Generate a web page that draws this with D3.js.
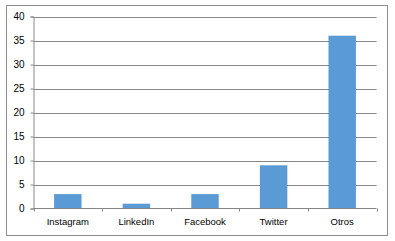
<!DOCTYPE html>
<html>
<head>
<meta charset="utf-8">
<script src="https://cdn.jsdelivr.net/npm/d3@7"></script>
<style>
  body { margin: 0; background: #fff; }
  text { font-family: "Liberation Sans", Arial, sans-serif; fill: #000; }
</style>
</head>
<body>
<div id="chart"></div>
<script>
var categorias = ["Instagram", "LinkedIn", "Facebook", "Twitter", "Otros"];
var valores = [3, 1, 3, 9, 36];
var ticksY = [0, 5, 10, 15, 20, 25, 30, 35, 40];

var width = 395,
    height = 241;

var svg = d3.select("#chart").append("svg")
    .attr("width", width)
    .attr("height", height);

// marco exterior
svg.append("rect")
    .attr("x", 6.5).attr("y", 5.5)
    .attr("width", 381).attr("height", 230)
    .attr("fill", "#fff")
    .attr("stroke", "#8c8c8c");

var x = d3.scaleBand()
    .domain(categorias)
    .range([33.5, 376.5])
    .paddingInner(0.6)
    .paddingOuter(0.3);

var y = d3.scaleLinear()
    .domain([0, 40])
    .range([208.5, 16.5]);

// lineas de la cuadricula
svg.append("g")
    .selectAll("line")
    .data(ticksY.slice(1))
  .enter().append("line")
    .attr("x1", 33.5).attr("x2", 376.5)
    .attr("y1", function(d) { return Math.round(y(d)) + 0.5; })
    .attr("y2", function(d) { return Math.round(y(d)) + 0.5; })
    .attr("stroke", "#868686");

// barras
svg.append("g")
    .selectAll("rect")
    .data(valores)
  .enter().append("rect")
    .attr("x", function(d, i) { return x(categorias[i]); })
    .attr("y", function(d) { return y(d); })
    .attr("width", x.bandwidth())
    .attr("height", function(d) { return y(0) - y(d); })
    .attr("fill", "#5b9bd5");

// eje Y
var ejeY = svg.append("g")
    .attr("transform", "translate(33.5,0)")
    .call(d3.axisLeft(y).tickValues(ticksY).tickSize(3).tickPadding(6));
ejeY.select(".domain").attr("stroke", "#868686");
ejeY.selectAll(".tick line").attr("stroke", "#868686");
ejeY.selectAll("text").style("font-size", "10px").attr("fill", "#000");

// eje X
var bordes = categorias.map(function(c) { return x(c) - x.step() * 0.3; }).concat([376.5]);
var ejeX = svg.append("g")
    .attr("transform", "translate(0,208.5)");
ejeX.append("line")
    .attr("x1", 33.5).attr("x2", 376.5)
    .attr("stroke", "#868686");
ejeX.selectAll(".marca")
    .data(bordes)
  .enter().append("line")
    .attr("class", "marca")
    .attr("x1", function(d) { return Math.round(d) + 0.5; })
    .attr("x2", function(d) { return Math.round(d) + 0.5; })
    .attr("y1", 0).attr("y2", 3)
    .attr("stroke", "#868686");
ejeX.selectAll(".etiqueta")
    .data(categorias)
  .enter().append("text")
    .attr("class", "etiqueta")
    .attr("x", function(d) { return x(d) + x.bandwidth() / 2; })
    .attr("y", 16)
    .attr("text-anchor", "middle")
    .style("font-size", "9.5px")
    .text(function(d) { return d; });
</script>
</body>
</html>
